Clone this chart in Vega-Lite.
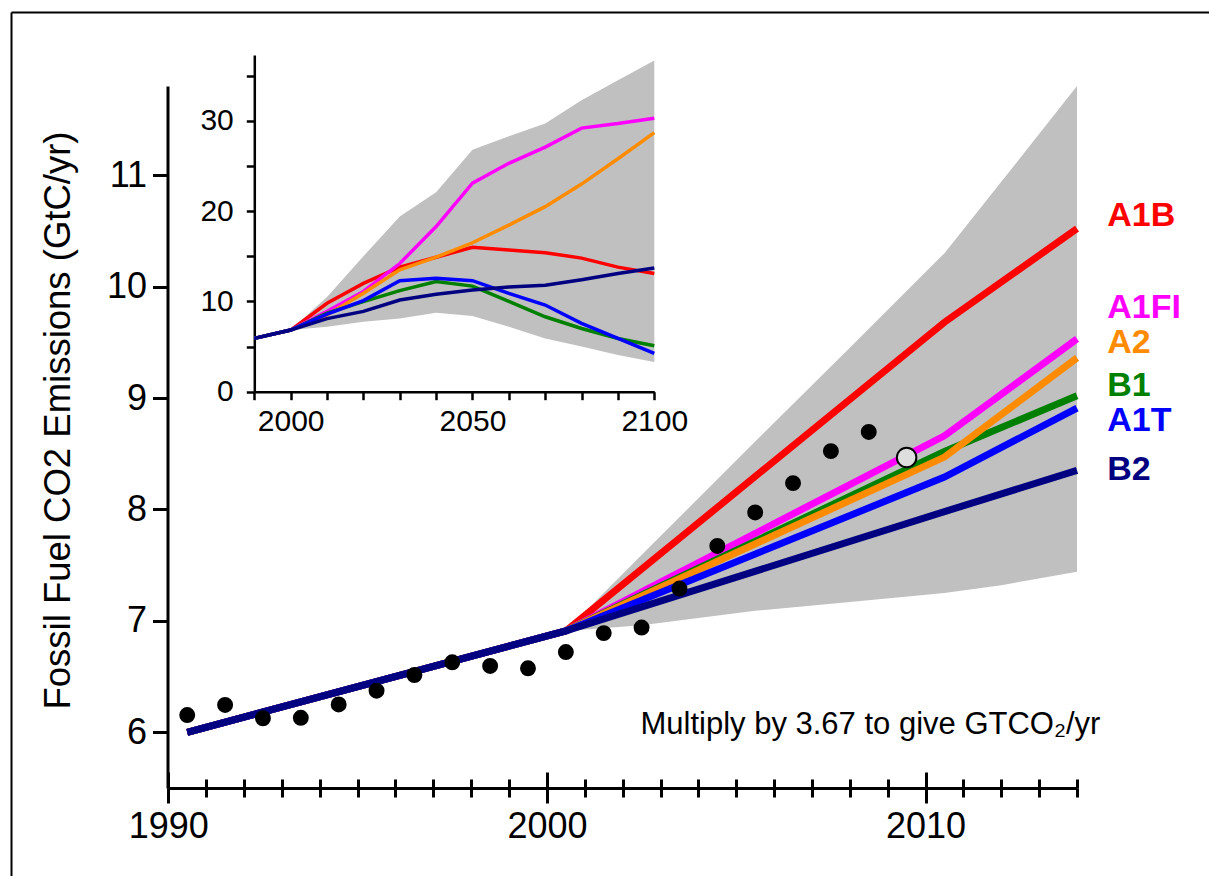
{
  "$schema": "https://vega.github.io/schema/vega-lite/v6.json",
  "width": 1198,
  "height": 864,
  "autosize": {"type": "none"},
  "padding": {"left": 11, "top": 12, "right": 0, "bottom": 0},
  "background": "white",
  "config": {
    "view": {"stroke": null},
    "font": "Liberation Sans",
    "axis": {"domainColor": "black", "tickColor": "black", "labelColor": "black", "titleColor": "black", "labelFont": "Liberation Sans", "titleFont": "Liberation Sans", "grid": false}
  },
  "datasets": {
    "mainBand": [
      {"year": 2000.5, "lo": 6.91, "hi": 6.91},
      {"year": 2002.5, "lo": 6.96, "hi": 7.59},
      {"year": 2005.5, "lo": 7.09, "hi": 8.61},
      {"year": 2008, "lo": 7.17, "hi": 9.45},
      {"year": 2010.5, "lo": 7.25, "hi": 10.3},
      {"year": 2012, "lo": 7.32, "hi": 10.94},
      {"year": 2014, "lo": 7.44, "hi": 11.8}
    ],
    "mainLines": [
      {"scenario": "A1B", "year": 1990.5, "value": 6.0},
      {"scenario": "A1B", "year": 2000.5, "value": 6.91},
      {"scenario": "A1B", "year": 2010.5, "value": 9.68},
      {"scenario": "A1B", "year": 2014, "value": 10.52},
      {"scenario": "A1FI", "year": 1990.5, "value": 6.0},
      {"scenario": "A1FI", "year": 2000.5, "value": 6.91},
      {"scenario": "A1FI", "year": 2010.5, "value": 8.66},
      {"scenario": "A1FI", "year": 2014, "value": 9.53},
      {"scenario": "B1", "year": 1990.5, "value": 6.0},
      {"scenario": "B1", "year": 2000.5, "value": 6.91},
      {"scenario": "B1", "year": 2010.5, "value": 8.52},
      {"scenario": "B1", "year": 2014, "value": 9.02},
      {"scenario": "A2", "year": 1990.5, "value": 6.0},
      {"scenario": "A2", "year": 2000.5, "value": 6.91},
      {"scenario": "A2", "year": 2010.5, "value": 8.47},
      {"scenario": "A2", "year": 2014, "value": 9.36},
      {"scenario": "A1T", "year": 1990.5, "value": 6.0},
      {"scenario": "A1T", "year": 2000.5, "value": 6.91},
      {"scenario": "A1T", "year": 2010.5, "value": 8.29},
      {"scenario": "A1T", "year": 2014, "value": 8.91},
      {"scenario": "B2", "year": 1990.5, "value": 6.0},
      {"scenario": "B2", "year": 2000.5, "value": 6.91},
      {"scenario": "B2", "year": 2010.5, "value": 7.98},
      {"scenario": "B2", "year": 2014, "value": 8.35}
    ],
    "labels": [
      {"scenario": "A1B", "year": 2014.8, "value": 10.633},
      {"scenario": "A1FI", "year": 2014.8, "value": 9.812},
      {"scenario": "A2", "year": 2014.8, "value": 9.498},
      {"scenario": "B1", "year": 2014.8, "value": 9.108},
      {"scenario": "A1T", "year": 2014.8, "value": 8.798},
      {"scenario": "B2", "year": 2014.8, "value": 8.358}
    ],
    "note": [
      {"year": 2002.47, "value": 5.982, "text": "Multiply by 3.67 to give GTCO₂/yr"}
    ],
    "obs": [
      {"year": 1990.5, "value": 6.155},
      {"year": 1991.5, "value": 6.245},
      {"year": 1992.5, "value": 6.126},
      {"year": 1993.5, "value": 6.13},
      {"year": 1994.5, "value": 6.25},
      {"year": 1995.5, "value": 6.373},
      {"year": 1996.5, "value": 6.514},
      {"year": 1997.5, "value": 6.628},
      {"year": 1998.5, "value": 6.595},
      {"year": 1999.5, "value": 6.574},
      {"year": 2000.5, "value": 6.72},
      {"year": 2001.5, "value": 6.89},
      {"year": 2002.5, "value": 6.94},
      {"year": 2003.5, "value": 7.29},
      {"year": 2004.5, "value": 7.672},
      {"year": 2005.5, "value": 7.973},
      {"year": 2006.5, "value": 8.236},
      {"year": 2007.5, "value": 8.523},
      {"year": 2008.5, "value": 8.695}
    ],
    "latest": [
      {"year": 2009.5, "value": 8.466}
    ],
    "insetBand": [
      {"year": 2000, "lo": 6.83, "hi": 6.83},
      {"year": 2010, "lo": 7.2, "hi": 10.5},
      {"year": 2020, "lo": 7.75, "hi": 15.0},
      {"year": 2030, "lo": 8.1, "hi": 19.4},
      {"year": 2040, "lo": 8.75, "hi": 22.1},
      {"year": 2050, "lo": 8.38, "hi": 26.8},
      {"year": 2060, "lo": 7.2, "hi": 28.3},
      {"year": 2070, "lo": 5.9, "hi": 29.7},
      {"year": 2080, "lo": 5.0, "hi": 32.3},
      {"year": 2090, "lo": 4.06, "hi": 34.5},
      {"year": 2100, "lo": 3.3, "hi": 36.7}
    ],
    "insetLines": [
      {"scenario": "A1B", "year": 1990, "value": 5.91},
      {"scenario": "A1B", "year": 2000, "value": 6.83},
      {"scenario": "A1B", "year": 2010, "value": 9.8},
      {"scenario": "A1B", "year": 2020, "value": 12.0},
      {"scenario": "A1B", "year": 2030, "value": 13.8},
      {"scenario": "A1B", "year": 2040, "value": 14.9},
      {"scenario": "A1B", "year": 2050, "value": 16.0},
      {"scenario": "A1B", "year": 2060, "value": 15.7},
      {"scenario": "A1B", "year": 2070, "value": 15.4},
      {"scenario": "A1B", "year": 2080, "value": 14.8},
      {"scenario": "A1B", "year": 2090, "value": 13.8},
      {"scenario": "A1B", "year": 2100, "value": 13.1},
      {"scenario": "A1FI", "year": 1990, "value": 5.91},
      {"scenario": "A1FI", "year": 2000, "value": 6.83},
      {"scenario": "A1FI", "year": 2010, "value": 8.9},
      {"scenario": "A1FI", "year": 2020, "value": 11.1},
      {"scenario": "A1FI", "year": 2030, "value": 14.2},
      {"scenario": "A1FI", "year": 2040, "value": 18.3},
      {"scenario": "A1FI", "year": 2050, "value": 23.1},
      {"scenario": "A1FI", "year": 2060, "value": 25.3},
      {"scenario": "A1FI", "year": 2070, "value": 27.1},
      {"scenario": "A1FI", "year": 2080, "value": 29.2},
      {"scenario": "A1FI", "year": 2090, "value": 29.7},
      {"scenario": "A1FI", "year": 2100, "value": 30.3},
      {"scenario": "A2", "year": 1990, "value": 5.91},
      {"scenario": "A2", "year": 2000, "value": 6.83},
      {"scenario": "A2", "year": 2010, "value": 8.5},
      {"scenario": "A2", "year": 2020, "value": 10.9},
      {"scenario": "A2", "year": 2030, "value": 13.5},
      {"scenario": "A2", "year": 2040, "value": 14.9},
      {"scenario": "A2", "year": 2050, "value": 16.5},
      {"scenario": "A2", "year": 2060, "value": 18.46},
      {"scenario": "A2", "year": 2070, "value": 20.5},
      {"scenario": "A2", "year": 2080, "value": 23.0},
      {"scenario": "A2", "year": 2090, "value": 25.8},
      {"scenario": "A2", "year": 2100, "value": 28.7},
      {"scenario": "B1", "year": 1990, "value": 5.91},
      {"scenario": "B1", "year": 2000, "value": 6.83},
      {"scenario": "B1", "year": 2010, "value": 8.7},
      {"scenario": "B1", "year": 2020, "value": 9.97},
      {"scenario": "B1", "year": 2030, "value": 11.2},
      {"scenario": "B1", "year": 2040, "value": 12.2},
      {"scenario": "B1", "year": 2050, "value": 11.7},
      {"scenario": "B1", "year": 2060, "value": 10.0},
      {"scenario": "B1", "year": 2070, "value": 8.3},
      {"scenario": "B1", "year": 2080, "value": 7.0},
      {"scenario": "B1", "year": 2090, "value": 5.9},
      {"scenario": "B1", "year": 2100, "value": 5.1},
      {"scenario": "A1T", "year": 1990, "value": 5.91},
      {"scenario": "A1T", "year": 2000, "value": 6.83},
      {"scenario": "A1T", "year": 2010, "value": 8.6},
      {"scenario": "A1T", "year": 2020, "value": 10.1},
      {"scenario": "A1T", "year": 2030, "value": 12.3},
      {"scenario": "A1T", "year": 2040, "value": 12.56},
      {"scenario": "A1T", "year": 2050, "value": 12.3},
      {"scenario": "A1T", "year": 2060, "value": 10.9},
      {"scenario": "A1T", "year": 2070, "value": 9.6},
      {"scenario": "A1T", "year": 2080, "value": 7.57},
      {"scenario": "A1T", "year": 2090, "value": 5.9},
      {"scenario": "A1T", "year": 2100, "value": 4.25},
      {"scenario": "B2", "year": 1990, "value": 5.91},
      {"scenario": "B2", "year": 2000, "value": 6.83},
      {"scenario": "B2", "year": 2010, "value": 8.1},
      {"scenario": "B2", "year": 2020, "value": 8.9},
      {"scenario": "B2", "year": 2030, "value": 10.16},
      {"scenario": "B2", "year": 2040, "value": 10.8},
      {"scenario": "B2", "year": 2050, "value": 11.26},
      {"scenario": "B2", "year": 2060, "value": 11.6},
      {"scenario": "B2", "year": 2070, "value": 11.8},
      {"scenario": "B2", "year": 2080, "value": 12.4},
      {"scenario": "B2", "year": 2090, "value": 13.1},
      {"scenario": "B2", "year": 2100, "value": 13.7}
    ]
  },
  "resolve": {"scale": {"x": "independent", "y": "independent"}},
  "layer": [
    {
      "layer": [
        {
          "data": {"name": "mainBand"},
          "mark": {"type": "area", "color": "#c0c0c0", "opacity": 1},
          "encoding": {
            "x": {"field": "year", "type": "quantitative",
              "scale": {"domain": [1990, 2014], "range": [157.3, 1066], "nice": false, "zero": false},
              "axis": {"orient": "bottom", "offset": -88, "values": [1990,1991,1992,1993,1994,1995,1996,1997,1998,1999,2000,2001,2002,2003,2004,2005,2006,2007,2008,2009,2010,2011,2012,2013,2014],
                "format": "d", "labelExpr": "datum.value % 10 === 0 ? datum.label : ''",
                "tickSize": 15, "tickWidth": 3,
                "tickDash": {"condition": {"test": "datum.value % 10 === 0", "value": [20, 2]}, "value": [9, 30]},
                "domainWidth": 3, "labelFontSize": 36, "labelPadding": 6, "labelFlush": false, "labelOverlap": false, "title": null}},
            "y": {"field": "lo", "type": "quantitative",
              "scale": {"domain": [5.5, 11.8], "range": [776, 74], "nice": false, "zero": false},
              "axis": {"orient": "left", "offset": -156.5, "values": [6, 7, 8, 9, 10, 11], "format": "d",
                "tickSize": 15, "tickWidth": 3, "domainWidth": 3, "labelFontSize": 36, "labelPadding": 6,
                "labelFlush": false, "labelOverlap": false,
                "title": "Fossil Fuel CO2 Emissions (GtC/yr)", "titleFontSize": 36.5, "titleFontWeight": "normal",
                "titleX": -98.5, "titleY": 408, "titleAngle": 270, "titleAlign": "center", "titleBaseline": "alphabetic"}},
            "y2": {"field": "hi"}
          }
        },
        {
          "data": {"name": "mainLines"},
          "mark": {"type": "line", "strokeWidth": 7},
          "encoding": {
            "x": {"field": "year", "type": "quantitative", "scale": {"domain": [1990, 2014], "range": [157.3, 1066], "nice": false, "zero": false}},
            "y": {"field": "value", "type": "quantitative", "scale": {"domain": [5.5, 11.8], "range": [776, 74], "nice": false, "zero": false}},
            "color": {"field": "scenario", "type": "nominal", "legend": null,
              "scale": {"domain": ["A1B", "A1FI", "A2", "B1", "A1T", "B2"], "range": ["#ff0000", "#ff00ff", "#ff8c00", "#008000", "#0000ff", "#000080"]}}
          }
        },
        {
          "data": {"name": "labels"},
          "mark": {"type": "text", "fontSize": 34, "fontWeight": "bold", "align": "left", "baseline": "middle"},
          "encoding": {
            "x": {"field": "year", "type": "quantitative", "scale": {"domain": [1990, 2014], "range": [157.3, 1066], "nice": false, "zero": false}},
            "y": {"field": "value", "type": "quantitative", "scale": {"domain": [5.5, 11.8], "range": [776, 74], "nice": false, "zero": false}},
            "text": {"field": "scenario"},
            "color": {"field": "scenario", "type": "nominal", "legend": null}
          }
        }
      ]
    },
    {
      "layer": [
        {
          "data": {"name": "insetBand"},
          "mark": {"type": "area", "color": "#c0c0c0", "opacity": 1},
          "encoding": {
            "x": {"field": "year", "type": "quantitative",
              "scale": {"domain": [1990, 2100], "range": [243.3, 643.3], "nice": false, "zero": false},
              "axis": {"orient": "bottom", "offset": -484.3, "values": [1990,2000,2010,2020,2030,2040,2050,2060,2070,2080,2090,2100],
                "format": "d", "labelExpr": "datum.value % 50 === 0 ? datum.label : ''",
                "tickSize": 8, "tickWidth": 2.5, "domainWidth": 2.5, "labelFontSize": 30, "labelPadding": 6.4,
                "labelFlush": false, "labelOverlap": false, "title": null}},
            "y": {"field": "lo", "type": "quantitative",
              "scale": {"domain": [0, 37.3], "range": [379.7, 43], "nice": false, "zero": false},
              "axis": {"orient": "left", "offset": -243.3, "values": [0, 5, 10, 15, 20, 25, 30, 35],
                "format": "d", "labelExpr": "datum.value % 10 === 0 ? datum.label : ''",
                "tickSize": 8, "tickWidth": 2.5, "domainWidth": 2.5, "labelFontSize": 30, "labelPadding": 13,
                "labelFlush": false, "labelOverlap": false, "title": null}},
            "y2": {"field": "hi"}
          }
        },
        {
          "data": {"name": "insetLines"},
          "mark": {"type": "line", "strokeWidth": 3.5},
          "encoding": {
            "x": {"field": "year", "type": "quantitative", "scale": {"domain": [1990, 2100], "range": [243.3, 643.3], "nice": false, "zero": false}},
            "y": {"field": "value", "type": "quantitative", "scale": {"domain": [0, 37.3], "range": [379.7, 43], "nice": false, "zero": false}},
            "color": {"field": "scenario", "type": "nominal", "legend": null}
          }
        }
      ]
    },
    {
      "layer": [
        {
          "data": {"name": "obs"},
          "mark": {"type": "circle", "color": "black", "opacity": 1, "size": 254},
          "encoding": {
            "x": {"field": "year", "type": "quantitative",
              "scale": {"domain": [1990, 2014], "range": [157.3, 1066], "nice": false, "zero": false},
              "axis": {"orient": "top", "offset": -776, "values": [1990,1991,1992,1993,1994,1995,1996,1997,1998,1999,2000,2001,2002,2003,2004,2005,2006,2007,2008,2009,2010,2011,2012,2013,2014],
                "labels": false, "domain": false, "tickSize": 16, "tickWidth": 3,
                "tickDash": {"condition": {"test": "datum.value % 10 === 0", "value": [20, 2]}, "value": [9, 30]},
                "title": null}},
            "y": {"field": "value", "type": "quantitative",
              "scale": {"domain": [5.5, 11.8], "range": [776, 74], "nice": false, "zero": false}, "axis": null}
          }
        },
        {
          "data": {"name": "latest"},
          "mark": {"type": "point", "shape": "circle", "filled": true, "fill": "#dedede", "stroke": "black", "strokeWidth": 2, "opacity": 1, "size": 380},
          "encoding": {
            "x": {"field": "year", "type": "quantitative", "scale": {"domain": [1990, 2014], "range": [157.3, 1066], "nice": false, "zero": false}},
            "y": {"field": "value", "type": "quantitative", "scale": {"domain": [5.5, 11.8], "range": [776, 74], "nice": false, "zero": false}}
          }
        }
      ]
    },
    {
      "data": {"name": "note"},
      "mark": {"type": "text", "fontSize": 31, "align": "left", "baseline": "alphabetic", "color": "black"},
      "encoding": {
        "x": {"field": "year", "type": "quantitative",
          "scale": {"domain": [1985.8455, 2017.486], "range": [0, 1198], "nice": false, "zero": false},
          "axis": {"orient": "top", "offset": 0, "domain": true, "domainWidth": 2, "ticks": false, "labels": false, "title": null}},
        "y": {"field": "value", "type": "quantitative",
          "scale": {"domain": [4.7103, 12.464], "range": [864, 0], "nice": false, "zero": false},
          "axis": {"orient": "left", "offset": 0, "domain": true, "domainWidth": 2, "ticks": false, "labels": false, "title": null}},
        "text": {"field": "text"}
      }
    }
  ]
}
